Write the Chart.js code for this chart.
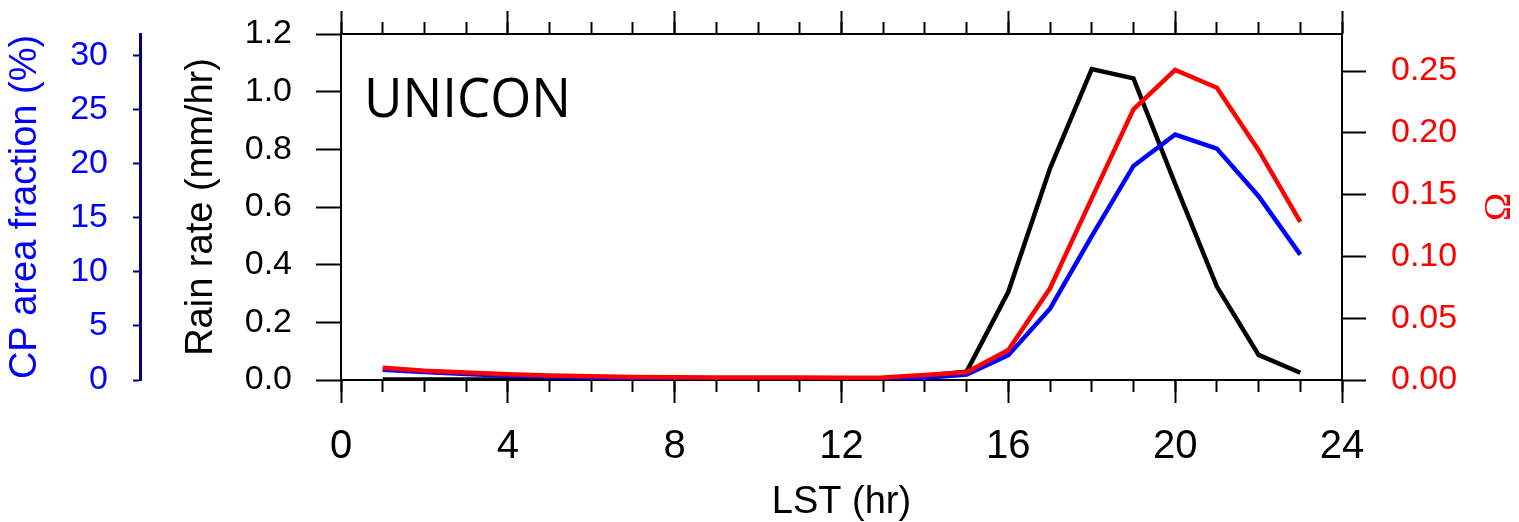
<!DOCTYPE html>
<html>
<head>
<meta charset="utf-8">
<script src="https://cdn.jsdelivr.net/npm/chart.js@4.4.1/dist/chart.umd.min.js"></script>
<style>
  body { margin: 0; background: #fff; }
  #wrap { width: 1519px; height: 522px; position: relative; }
</style>
</head>
<body>
<div id="wrap"><canvas id="grafico"></canvas></div>
<script>
// datos (hora local 1..23)
const horas = [1,2,3,4,5,6,7,8,9,10,11,12,13,14,15,16,17,18,19,20,21,22,23];
const lluvia = [0.002,0.002,0.002,0.002,0.002,0.002,0.002,0.002,0.002,0.002,0.002,0.002,0.003,0.015,0.029,0.306,0.734,1.078,1.046,0.68,0.324,0.087,0.025];
const fraccionCP = [0.95,0.74,0.55,0.4,0.3,0.22,0.17,0.13,0.1,0.08,0.07,0.06,0.06,0.2,0.5,2.3,6.6,13.3,19.8,22.7,21.4,17.0,11.6];
const omega = [0.010,0.0075,0.006,0.0046,0.0036,0.003,0.0025,0.0023,0.0021,0.002,0.002,0.0019,0.002,0.004,0.0062,0.0243,0.0742,0.147,0.219,0.251,0.2365,0.186,0.128];

const titulo = 'UNICON';
const tituloX = 'LST (hr)';
const tituloLluvia = 'Rain rate (mm/hr)';
const tituloCP = 'CP area fraction (%)';
const tituloOmega = '\u03A9';

const FUENTE = '"Liberation Sans", Arial, sans-serif';

const puntos = (valores) => horas.map((h, i) => ({ x: h, y: valores[i] }));

// tamaños fijos de cada eje, sin el relleno extra de las etiquetas
const fijarAncho = (w) => (scale) => {
  scale.width = w;
  scale.paddingTop = 0; scale.paddingBottom = 0;
};
const fijarAlto = (h) => (scale) => {
  scale.height = h;
  scale.paddingLeft = 0; scale.paddingRight = 0;
};

// texto UNICON y simbolo omega
const textosExtra = {
  id: 'textosExtra',
  afterDraw(chart) {
    const ctx = chart.ctx;
    ctx.save();
    ctx.fillStyle = '#000';
    ctx.font = '55px "Open Sans", sans-serif';
    ctx.textBaseline = 'alphabetic';
    ctx.textAlign = 'left';
    ctx.fillText(titulo, 364, 117, 207);
    ctx.translate(1500, 207);
    ctx.rotate(-Math.PI / 2);
    ctx.fillStyle = '#ff0000';
    ctx.font = '38px "Liberation Serif", serif';
    ctx.textAlign = 'center';
    ctx.textBaseline = 'middle';
    ctx.fillText(tituloOmega, 0, 0);
    ctx.restore();
  }
};

const ctx = document.getElementById('grafico').getContext('2d');
const grafico = new Chart(ctx, {
  type: 'line',
  data: {
    datasets: [
      { label: 'omega', data: puntos(omega), yAxisID: 'yOmega', borderColor: '#ff0000', borderWidth: 4.5 },
      { label: 'cp', data: puntos(fraccionCP), yAxisID: 'yCP', borderColor: '#0000ff', borderWidth: 4.5 },
      { label: 'lluvia', data: puntos(lluvia), yAxisID: 'y', borderColor: '#000000', borderWidth: 4.5 }
    ]
  },
  options: {
    responsive: true,
    maintainAspectRatio: false,
    animation: false,
    layout: { padding: 0 },
    elements: { point: { radius: 0 }, line: { tension: 0 } },
    plugins: { legend: { display: false }, tooltip: { enabled: false } },
    scales: {
      x: {
        type: 'linear', position: 'bottom', min: 0, max: 24, weight: 1,
        afterFit: fijarAlto(142),
        ticks: { stepSize: 4, color: '#000', font: { family: FUENTE, size: 40 }, padding: 20, maxRotation: 0 },
        grid: { drawOnChartArea: false, tickLength: 23, tickWidth: 2, color: '#000' },
        border: { color: '#000', width: 2 },
        title: { display: true, text: tituloX, color: '#000', font: { family: FUENTE, size: 38, lineHeight: 1.2 }, padding: { top: 0, bottom: -3 } }
      },
      xMenor: {
        type: 'linear', position: 'bottom', min: 0, max: 24, weight: 0,
        afterFit: fijarAlto(0),
        ticks: { stepSize: 1, display: false },
        grid: { drawOnChartArea: false, tickLength: 12, tickWidth: 2, color: '#000' },
        border: { display: false }
      },
      xArriba: {
        type: 'linear', position: 'top', min: 0, max: 24, weight: 1,
        afterFit: fijarAlto(34),
        ticks: { stepSize: 4, display: false },
        grid: { drawOnChartArea: false, tickLength: 23, tickWidth: 2, color: '#000' },
        border: { color: '#000', width: 2 }
      },
      xArribaMenor: {
        type: 'linear', position: 'top', min: 0, max: 24, weight: 0,
        afterFit: fijarAlto(0),
        ticks: { stepSize: 1, display: false },
        grid: { drawOnChartArea: false, tickLength: 12, tickWidth: 2, color: '#000' },
        border: { display: false }
      },
      y: {
        type: 'linear', position: 'left', min: 0, max: 1.2, weight: 0,
        afterFit: fijarAncho(201),
        ticks: { stepSize: 0.2, color: '#000', font: { family: FUENTE, size: 34 }, padding: 24,
          callback: (v) => v.toFixed(1) },
        grid: { drawOnChartArea: false, tickLength: 25, tickWidth: 2, color: '#000' },
        border: { color: '#000', width: 2 },
        title: { display: true, text: tituloLluvia, color: '#000', font: { family: FUENTE, size: 38, lineHeight: 1.2 }, padding: { top: 39, bottom: 0 } }
      },
      yCP: {
        type: 'linear', position: 'left', min: 0, max: 32, weight: 1,
        afterFit: fijarAncho(140),
        ticks: { stepSize: 5, includeBounds: false, color: '#0000ff', font: { family: FUENTE, size: 34 }, padding: 25 },
        grid: { drawOnChartArea: false, tickLength: 7, tickWidth: 2, color: '#000080' },
        border: { color: '#000080', width: 3 },
        title: { display: true, text: tituloCP, color: '#0000ff', font: { family: FUENTE, size: 38, lineHeight: 1.2 }, padding: { top: 3, bottom: 0 } }
      },
      yOmega: {
        type: 'linear', position: 'right', min: 0, max: 0.28,
        afterFit: fijarAncho(177),
        ticks: { stepSize: 0.05, includeBounds: false, color: '#ff0000', font: { family: FUENTE, size: 34 }, padding: 25,
          callback: (v) => v.toFixed(2) },
        grid: { drawOnChartArea: false, tickLength: 24, tickWidth: 2, color: '#000' },
        border: { color: '#000', width: 2 }
      }
    }
  },
  plugins: [textosExtra]
});
</script>
</body>
</html>
